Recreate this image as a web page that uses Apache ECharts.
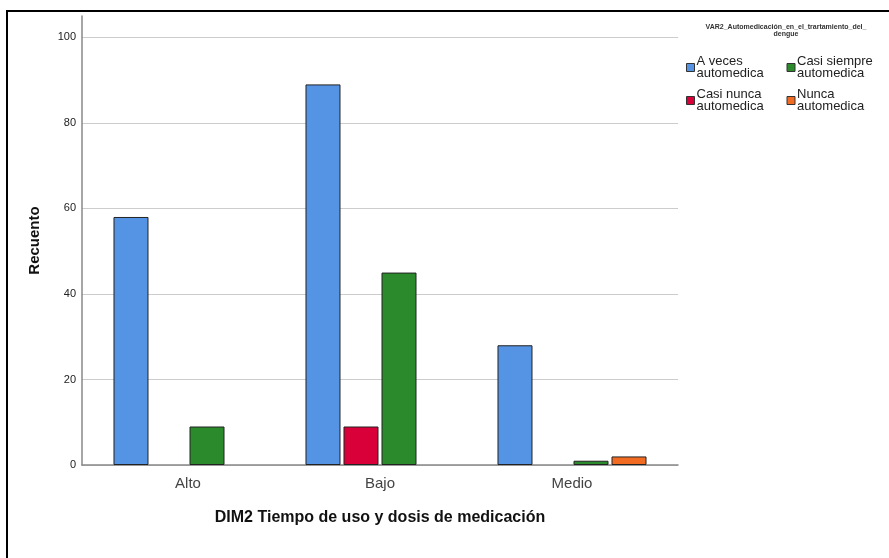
<!DOCTYPE html>
<html><head><meta charset="utf-8">
<script src="https://cdn.jsdelivr.net/npm/echarts@6/dist/echarts.min.js"></script>
<style>html,body{margin:0;padding:0;background:#fff}#c{width:889px;height:558px}</style>
</head><body><div id="c"></div>
<script>
const categories = ['Alto', 'Bajo', 'Medio'];
const seriesNames = ['A veces automedica', 'Casi nunca automedica', 'Casi siempre automedica', 'Nunca automedica'];
const aVeces = [58, 89, 28];
const casiNunca = [null, 9, null];
const casiSiempre = [9, 45, 1];
const nunca = [null, null, 2];
const yTicks = [0, 20, 40, 60, 80, 100];
const legendOrder = ['A veces automedica', 'Casi siempre automedica', 'Casi nunca automedica', 'Nunca automedica'];
const colors = ['#5594e4', '#d9003a', '#2b8a2b', '#f26b22'];
const values = [aVeces, casiNunca, casiSiempre, nunca];

const chart = echarts.init(document.getElementById('c'));
const font = 'Liberation Sans, Arial, sans-serif';
chart.setOption({
  animation: false,
  textStyle: { fontFamily: font },
  graphic: [{ type: 'rect', shape: { x: 7, y: 11, width: 950, height: 650 }, style: { fill: 'none', stroke: '#000', lineWidth: 2 } }],
  title: {
    text: 'VAR2_Automedicación_en_el_trartamiento_del_\ndengue',
    left: 781, top: 19, textAlign: 'center',
    textStyle: { fontSize: 7, fontWeight: 'bold', color: '#333', lineHeight: 7, fontFamily: font }
  },
  legend: {
    data: legendOrder,
    left: 681, top: 50, width: 210,
    orient: 'horizontal',
    itemWidth: 8, itemHeight: 8, itemGap: 8,
    icon: 'rect',
    formatter: function (n) { return '{a|' + n.replace(' automedica', '\nautomedica') + '}'; },
    textStyle: { color: '#222', fontSize: 13, fontFamily: font, padding: [0, 0, 0, -3],
      rich: { a: { width: 82, fontSize: 13, lineHeight: 12, color: '#222', fontFamily: font } } },
    itemStyle: { borderColor: '#333', borderWidth: 1 }
  },
  grid: [
    { left: 82, right: 211, top: 16, bottom: 93 },
    { left: 92, right: 221, top: 16, bottom: 93 }
  ],
  xAxis: [
    { gridIndex: 0, type: 'category', data: categories, axisLine: { lineStyle: { color: '#888', width: 1.5 } },
      axisTick: { show: false }, axisLabel: { show: false }, splitLine: { show: false },
      name: 'DIM2 Tiempo de uso y dosis de medicación', nameLocation: 'middle', nameGap: 45,
      nameTextStyle: { fontSize: 16, fontWeight: 'bold', color: '#111', fontFamily: font } },
    { gridIndex: 1, type: 'category', data: categories, axisLine: { show: false }, axisTick: { show: false },
      axisLabel: { fontSize: 15, color: '#444', margin: 11, fontFamily: font } }
  ],
  yAxis: [
    { gridIndex: 0, type: 'value', min: 0, max: 105, interval: 20,
      axisLine: { show: true, lineStyle: { color: '#888', width: 1.5 } }, axisTick: { show: false },
      axisLabel: { fontSize: 11, color: '#222', margin: 6, showMaxLabel: false,
        formatter: function (v) { return yTicks.indexOf(v) >= 0 ? String(v) : ''; } },
      splitLine: { show: true, showMaxLine: false, lineStyle: { color: '#ccc', width: 1.2 } },
      name: 'Recuento', nameLocation: 'middle', nameGap: 40, nameRotate: 90,
      nameTextStyle: { fontSize: 15, fontWeight: 'bold', color: '#111', fontFamily: font } },
    { gridIndex: 1, type: 'value', min: 0, max: 105, interval: 20, show: false }
  ],
  series: seriesNames.map(function (n, i) {
    return {
      name: n, type: 'bar', xAxisIndex: 1, yAxisIndex: 1,
      data: values[i], barWidth: 35, barGap: '8.6%',
      itemStyle: { color: colors[i], borderColor: '#222', borderWidth: 1 }
    };
  })
});
</script></body></html>
